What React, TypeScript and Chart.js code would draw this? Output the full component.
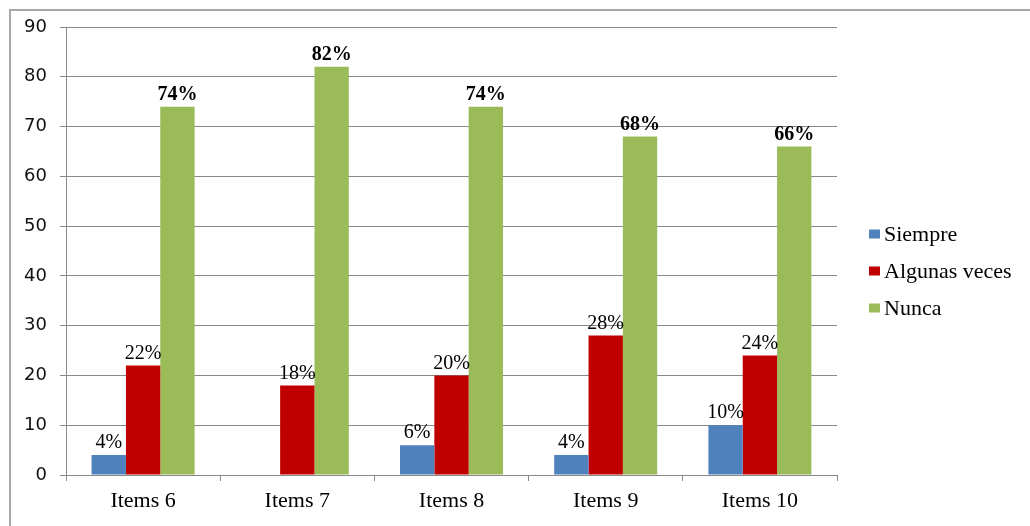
import React, { useEffect, useRef } from "react";
import { Chart, registerables } from "chart.js";

Chart.register(...registerables);

const categories = ["Items 6", "Items 7", "Items 8", "Items 9", "Items 10"];
const seriesNames = ["Siempre", "Algunas veces", "Nunca"];
const siempre = [4, 0, 6, 4, 10];
const algunas = [22, 18, 20, 28, 24];
const nunca = [74, 82, 74, 68, 66];
const colors = ["#4F81BD", "#C00000", "#9BBB59"];
const yTicks = [0, 10, 20, 30, 40, 50, 60, 70, 80, 90];

const SERIF = "'Liberation Serif', 'Times New Roman', serif";
const SANS = "'DejaVu Sans', Verdana, sans-serif";

const labelPlugin = {
  id: "barLabels",
  afterDatasetsDraw(chart: any) {
    const ctx = chart.ctx;
    ctx.save();
    ctx.textAlign = "center";
    ctx.textBaseline = "bottom";
    ctx.fillStyle = "#000";
    chart.data.datasets.forEach((ds: any, di: number) => {
      const meta = chart.getDatasetMeta(di);
      ctx.font = (di === 2 ? "bold " : "") + "20px " + SERIF;
      meta.data.forEach((el: any, i: number) => {
        const v = ds.data[i];
        if (!v) return;
        ctx.fillText(v + "%", el.x, el.y - 2);
      });
    });
    ctx.restore();
  },
};

const legendPlugin = {
  id: "sideLegend",
  afterDraw(chart: any) {
    const ctx = chart.ctx;
    ctx.save();
    ctx.textAlign = "left";
    ctx.textBaseline = "middle";
    ctx.font = "22px " + SERIF;
    const x = chart.chartArea.right + 32;
    const y0 = 234;
    chart.data.datasets.forEach((ds: any, i: number) => {
      const y = y0 + i * 37;
      ctx.fillStyle = ds.backgroundColor;
      ctx.fillRect(x, y - 4.5, 11, 9);
      ctx.fillStyle = "#000";
      ctx.fillText(ds.label, x + 15, y + 1);
    });
    ctx.restore();
  },
};

export default function App() {
  const ref = useRef<HTMLCanvasElement>(null);
  useEffect(() => {
    if (!ref.current) return;
    const series = [siempre, algunas, nunca];
    const chart = new Chart(ref.current, {
      type: "bar",
      data: {
        labels: categories,
        datasets: series.map((d, i) => ({
          label: seriesNames[i],
          data: d,
          backgroundColor: colors[i],
          borderWidth: 0,
          barPercentage: 1,
          categoryPercentage: 0.668,
        })),
      },
      options: {
        animation: false,
        responsive: false,
        maintainAspectRatio: false,
        layout: { padding: { left: 10, top: 27, right: 193, bottom: 0 } },
        plugins: {
          legend: { display: false },
          tooltip: { enabled: false },
        },
        scales: {
          x: {
            grid: {
              drawOnChartArea: false,
              drawTicks: true,
              tickLength: 6,
              color: "#888888",
              offset: true,
            },
            border: { color: "#888888" },
            ticks: {
              color: "#000",
              font: { family: SERIF, size: 22 },
              padding: 7,
            },
            afterFit: (s: any) => {
              s.height = 51;
            },
          },
          y: {
            min: 0,
            max: 90,
            afterBuildTicks: (s: any) => {
              s.ticks = yTicks.map((v) => ({ value: v }));
            },
            grid: { color: "#888888", tickLength: 6 },
            border: { color: "#888888" },
            ticks: {
              color: "#111",
              font: { family: SANS, size: 18 },
              padding: 13,
            },
            afterFit: (s: any) => {
              s.width = 56;
            },
          },
        },
      },
      plugins: [labelPlugin, legendPlugin],
    });
    return () => chart.destroy();
  }, []);

  return (
    <div
      style={{
        position: "absolute",
        left: 0,
        top: 0,
        width: 1030,
        height: 526,
        overflow: "hidden",
        background: "#fff",
      }}
    >
      <div
        style={{
          position: "absolute",
          left: 9,
          top: 9,
          width: 1100,
          height: 600,
          border: "2px solid #a8a8a8",
        }}
      />
      <canvas
        ref={ref}
        width={1030}
        height={526}
        style={{ position: "absolute", left: 0, top: 0 }}
      />
    </div>
  );
}
